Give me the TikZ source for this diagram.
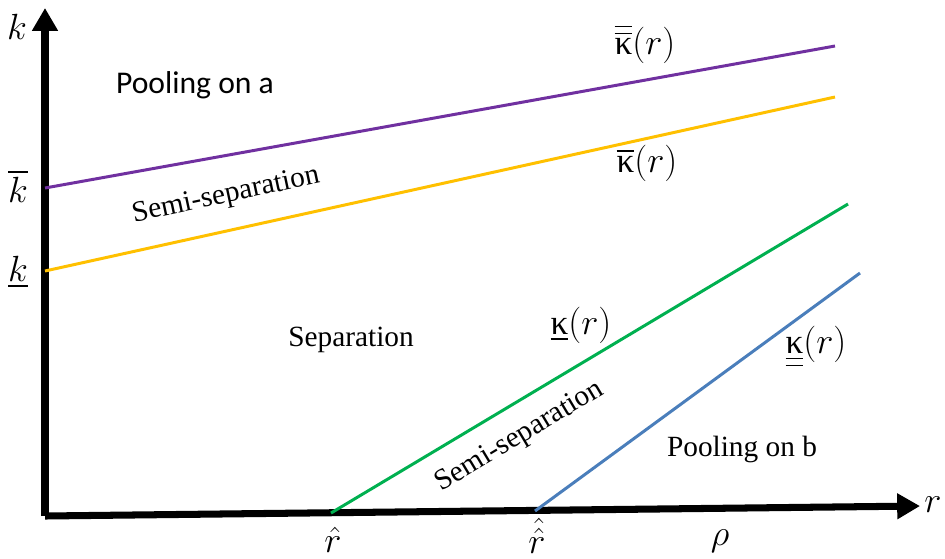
\documentclass[tikz,border=0pt]{standalone}
\usepackage{amsmath}
\usepackage{fontspec}
\setmainfont{Liberation Serif}
\newfontfamily\calfont{Carlito}
\newfontfamily\gkfont{Liberation Serif}
\usetikzlibrary{arrows.meta}
\newcommand{\kap}{\hbox{\gkfont κ}}
\definecolor{kpurple}{HTML}{7030A0}
\definecolor{kyellow}{HTML}{FFC000}
\definecolor{kgreen}{HTML}{00B050}
\definecolor{kblue}{HTML}{4A7EBB}
\tikzset{
  axis/.style={line width=4pt,-{Triangle[length=13pt,width=14pt]}},
  bound/.style={line width=1.7pt},
  region/.style={font=\fontsize{16.7}{19}\selectfont},
  lab/.style={font=\fontsize{20}{22}\selectfont,inner sep=1pt}
}
\begin{document}
\begin{tikzpicture}[x=0.02cm,y=-0.02cm]
\useasboundingbox (0,0) rectangle (945,558);
% axes
\coordinate (o) at (45,516);
\coordinate (ytop) at (45,8);
\coordinate (xend) at (920,506);
\draw[axis] (o) -- (ytop);
\draw[axis] (o) -- (xend);
% boundaries
\coordinate (pa) at (45,188);
\coordinate (pb) at (835,46);
\coordinate (ya) at (45,271);
\coordinate (yb) at (835,97);
\coordinate (ga) at (331,513);
\coordinate (gb) at (848,204);
\coordinate (ba) at (535,511);
\coordinate (bb) at (860,273);
\draw[bound,kpurple] (pa) -- (pb);
\draw[bound,kyellow] (ya) -- (yb);
\draw[bound,kgreen] (ga) -- (gb);
\draw[bound,kblue] (ba) -- (bb);
% axis labels
\node[lab] (klab) at (17,27) {$k$};
\node[lab] (kbar) at (18,186) {$\overline{k}$};
\node[lab] (kund) at (18,272) {$\underline{k}$};
\node[lab] (rlab) at (933,505) {$r$};
\node[lab] (rhat) at (333,540) {$\hat{r}$};
\node[lab] (rhh) at (537,536) {$\hat{\hat{r}}$};
\node[lab] (rho) at (720,541) {$\rho$};
% curve labels
\node[lab] (kk1) at (645,44) {$\overline{\overline{\kap}}(r)$};
\node[lab] (kk2) at (647,163) {$\overline{\kap}(r)$};
\node[lab] (kk3) at (581,325) {$\underline{\kap}(r)$};
\node[lab] (kk4) at (816,347) {$\underline{\underline{\kap}}(r)$};
% regions
\node[region,font=\calfont\fontsize{18}{20}\selectfont] (pool1) at (195,85) {Pooling on a};
\node[region,rotate=12] (semi1) at (226,196) {Semi-separation};
\node[region] (sep) at (351,340) {Separation};
\node[region,rotate=31] (semi2) at (520,437) {Semi-separation};
\node[region] (pool2) at (742,449) {Pooling on b};
\end{tikzpicture}
\end{document}
